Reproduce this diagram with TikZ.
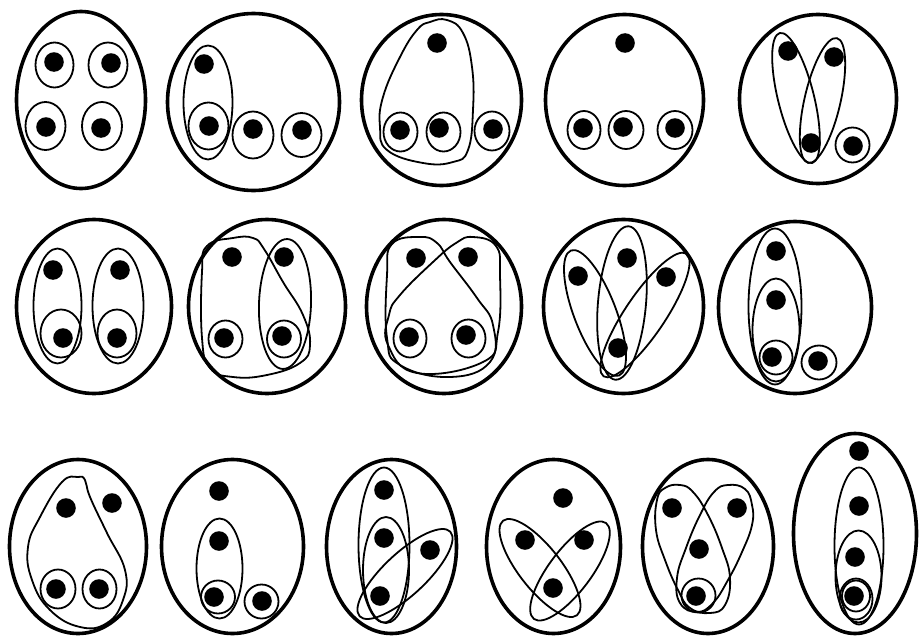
\documentclass[tikz,border=0pt]{standalone}
\begin{document}
\begin{tikzpicture}[x=1pt,y=-1pt,
  outer/.style={line width=3.6pt},
  loop/.style={line width=1.8pt},
  dot/.style={fill=black},
  sm/.style={loop,smooth cycle,tension=0.75}]
\useasboundingbox (0,0) rectangle (919,637);
\newcommand{\pt}[2]{\fill[dot] (#1,#2) circle (9.8);}
% ---------- Row 1 ----------
% Fig 1
\draw[outer] (81,100) ellipse [x radius=64.5, y radius=88.5];
\pt{54}{62}\pt{111}{63}\pt{46}{127}\pt{101}{128}
\draw[loop] (54.5,65) ellipse [x radius=19, y radius=22.5];
\draw[loop] (108,65) ellipse [x radius=19.5, y radius=22.5];
\draw[loop] (45.5,126) ellipse [x radius=20, y radius=24];
\draw[loop] (102,126) ellipse [x radius=20, y radius=24];
% Fig 2
\draw[outer] (253.5,102) ellipse [x radius=86, y radius=88.5];
\pt{204}{64}\pt{209}{126}\pt{253}{129}\pt{302}{130}
\draw[loop] (208,102.5) ellipse [x radius=24.5, y radius=57];
\draw[loop] (208.5,126) ellipse [x radius=20, y radius=23.5];
\draw[loop] (253,135) ellipse [x radius=20.5, y radius=23.5];
\draw[loop] (301.5,135) ellipse [x radius=20, y radius=22];
% Fig 3
\draw[outer] (441.5,100) ellipse [x radius=80, y radius=85.5];
\pt{437}{43}\pt{400}{130}\pt{439}{128}\pt{493}{129}
\draw[loop] (400.5,132) ellipse [x radius=17, y radius=19.5];
\draw[loop] (443.5,132) ellipse [x radius=17, y radius=19.5];
\draw[loop] (492,131) ellipse [x radius=17.5, y radius=19.5];
\draw[sm] plot coordinates {(430,22) (447,20) (463,33) (472,67) (473,110) (468,150) (453,162) (423,163) (387,150) (380,127) (383,97) (400,57) (417,30)};
% Fig 4
\draw[outer] (624.5,100) ellipse [x radius=79, y radius=85.5];
\pt{625}{43}\pt{583}{128}\pt{623}{127}\pt{675}{128}
\draw[loop] (584,130) ellipse [x radius=16.5, y radius=19];
\draw[loop] (626,130) ellipse [x radius=17.5, y radius=19];
\draw[loop] (675,130) ellipse [x radius=17.5, y radius=19];
% Fig 5
\draw[outer] (818,99) ellipse [x radius=78.5, y radius=84.5];
\pt{788}{51}\pt{834}{57}\pt{811}{143}\pt{853}{146}
\draw[loop] (796,98) ellipse [x radius=18, y radius=67, rotate=14];
\draw[loop] (822.5,100.5) ellipse [x radius=18, y radius=64, rotate=-13];
\draw[loop] (852.5,145) ellipse [x radius=17, y radius=17.5];
% ---------- Row 2 ----------
% Fig 6
\draw[outer] (94,306.5) ellipse [x radius=77.5, y radius=87];
\pt{53}{270}\pt{63}{338}\pt{120}{270}\pt{117}{338}
\draw[loop] (57.5,306) ellipse [x radius=24, y radius=57.5];
\draw[loop] (61,333.5) ellipse [x radius=20.5, y radius=24];
\draw[loop] (118,306) ellipse [x radius=25.5, y radius=57.5];
\draw[loop] (117,333.5) ellipse [x radius=19.5, y radius=24];
% Fig 7
\draw[outer] (267,306.5) ellipse [x radius=78.5, y radius=87];
\pt{232}{257}\pt{284}{257}\pt{224}{338}\pt{282}{336}
\draw[loop] (225.5,339) ellipse [x radius=17, y radius=18.5];
\draw[loop] (284,339) ellipse [x radius=17, y radius=18.5];
\draw[loop] (285,304) ellipse [x radius=26, y radius=65, rotate=-2];
\draw[sm] plot coordinates {(207,246) (233,238) (253,238) (264,249) (283,282) (303,315) (310,345) (300,363) (267,375) (233,377) (210,368) (202,338) (202,272)};
% Fig 8
\draw[outer] (444,306.5) ellipse [x radius=77.5, y radius=87];
\pt{416}{258}\pt{468}{257}\pt{409}{337}\pt{466}{335}
\draw[loop] (410,338.5) ellipse [x radius=16.5, y radius=19];
\draw[loop] (468.5,338.5) ellipse [x radius=17, y radius=19];
\draw[sm] plot coordinates {(392,244) (420,237) (437,243) (450,262) (477,298) (493,325) (490,362) (450,377) (400,365) (387,338) (387,275)};
\draw[sm] plot coordinates {(496,246) (473,237) (456,243) (433,262) (400,295) (389,315) (388,345) (417,373) (483,362) (498,332) (500,275)};
% Fig 9
\draw[outer] (623.5,306.5) ellipse [x radius=80, y radius=87];
\pt{578}{276}\pt{627}{258}\pt{666}{277}\pt{618}{348}
\draw[loop] (595,313) ellipse [x radius=21, y radius=67, rotate=21];
\draw[loop] (622,303) ellipse [x radius=24, y radius=77, rotate=-5];
\draw[loop] (645,315) ellipse [x radius=20, y radius=74, rotate=-34];
% Fig 10
\draw[outer] (795,307.5) ellipse [x radius=76.5, y radius=86];
\pt{776}{251}\pt{776}{300}\pt{772}{357}\pt{818}{361}
\draw[loop] (775,306.5) ellipse [x radius=26.5, y radius=78];
\draw[loop] (776,330) ellipse [x radius=23.5, y radius=51.5];
\draw[loop] (776,357.5) ellipse [x radius=16.5, y radius=17];
\draw[loop] (819,362.5) ellipse [x radius=17.5, y radius=17];
% ---------- Row 3 ----------
% Fig 11
\draw[outer] (78,546.5) ellipse [x radius=68.5, y radius=87];
\pt{66}{508}\pt{112}{503}\pt{56}{589}\pt{99}{589}
\draw[loop] (58,589) ellipse [x radius=17.5, y radius=19.5];
\draw[loop] (99.5,589) ellipse [x radius=17, y radius=19.5];
\draw[sm] plot coordinates {(78,477) (62,482) (40,517) (28,547) (32,580) (50,610) (80,627) (107,623) (123,600) (125,570) (107,533) (90,497) (85,480)};
% Fig 12
\draw[outer] (232.5,546.5) ellipse [x radius=71, y radius=87];
\pt{219}{491}\pt{219}{541}\pt{214}{597}\pt{262}{601}
\draw[loop] (219.5,568.5) ellipse [x radius=23, y radius=50];
\draw[loop] (218,597) ellipse [x radius=17, y radius=16.5];
\draw[loop] (261.5,601.5) ellipse [x radius=17, y radius=17];
% Fig 13
\draw[outer] (391.5,546.5) ellipse [x radius=65, y radius=87];
\pt{384}{490}\pt{384}{538}\pt{430}{550}\pt{380}{596}
\draw[loop] (384,545) ellipse [x radius=25.5, y radius=77.5];
\draw[loop] (386,570) ellipse [x radius=23, y radius=53];
\draw[loop] (405,574) ellipse [x radius=62, y radius=21, rotate=43];
% Fig 14
\draw[outer] (553.5,546.5) ellipse [x radius=67, y radius=87];
\pt{563}{498}\pt{525}{540}\pt{584}{540}\pt{553}{588}
\draw[loop] (540,568) ellipse [x radius=60, y radius=21, rotate=-52];
\draw[loop] (570,571) ellipse [x radius=60, y radius=21, rotate=53];
% Fig 15
\draw[outer] (708,546.5) ellipse [x radius=65.5, y radius=87];
\pt{672}{508}\pt{737}{508}\pt{699}{549}\pt{696}{596}
\draw[loop] (698.5,595.5) ellipse [x radius=17, y radius=17];
\draw[sm] plot coordinates {(657,500) (665,488) (680,485) (693,492) (708,515) (722,548) (730,578) (725,605) (710,613) (690,608) (678,590) (665,560) (656,530)};
\draw[sm] plot coordinates {(752,505) (745,489) (728,485) (714,492) (700,515) (686,548) (677,578) (680,603) (697,612) (713,603) (728,580) (742,552) (752,525)};
% Fig 16
\draw[outer] (855,533.5) ellipse [x radius=61.5, y radius=100];
\pt{859}{451}\pt{859}{506}\pt{855}{557}\pt{854}{596}
\draw[loop] (859,546) ellipse [x radius=24.5, y radius=78.5];
\draw[loop] (858.5,576.5) ellipse [x radius=23, y radius=46];
\draw[loop] (856,599) ellipse [x radius=16.5, y radius=20.5];
\draw[loop] (856,596) ellipse [x radius=14, y radius=15.5];
\end{tikzpicture}
\end{document}
